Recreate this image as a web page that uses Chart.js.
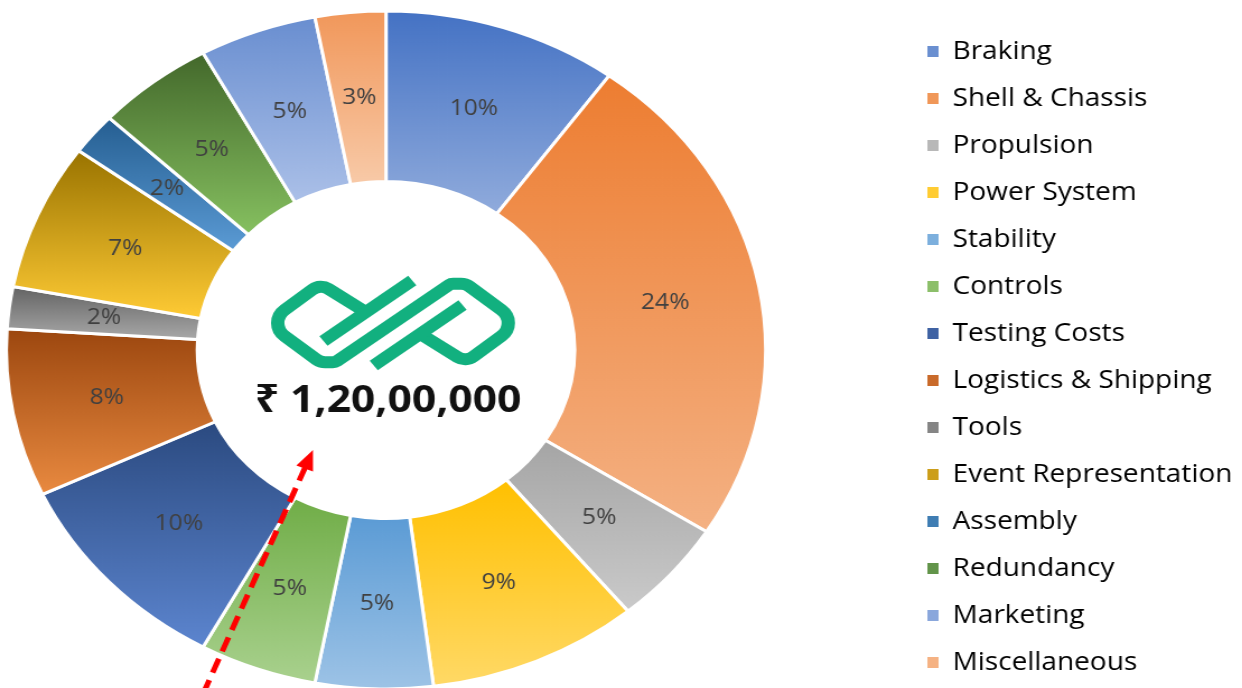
<!DOCTYPE html>
<html>
<head>
<meta charset="utf-8">
<script src="https://cdn.jsdelivr.net/npm/chart.js@4.4.1/dist/chart.umd.min.js"></script>
<style>
  html, body { margin: 0; padding: 0; background: #fff; overflow: hidden; }
  /* the reference picture is stretched sideways, so the canvas is too */
  #wrap { width: 1109px; height: 688px; transform: scaleX(1.12); transform-origin: 0 0; }
</style>
</head>
<body>
<div id="wrap"><canvas id="budgetChart"></canvas></div>
<script>
const STRETCH = 1.12;

const categories = [
    'Braking', 'Shell & Chassis', 'Propulsion', 'Power System', 'Stability', 'Controls',
    'Testing Costs', 'Logistics & Shipping', 'Tools', 'Event Representation', 'Assembly',
    'Redundancy', 'Marketing', 'Miscellaneous',
];
const shares = [10, 24, 5, 9, 5, 5, 10, 8, 2, 7, 2, 5, 5, 3];
const totalBudget = '₹ 1,20,00,000';

const topColors = ['#4472c4', '#ed7d31', '#a5a5a5', '#ffc000', '#5b9bd5', '#70ad47',
    '#2b4a80', '#9c470f', '#636363', '#997300', '#255e91', '#43682b', '#698ed0', '#f1975a'];
const bottomColors = ['#90abdc', '#f4b183', '#cacaca', '#ffd966', '#9dc3e6', '#a9d18e',
    '#5c85cf', '#e98a40', '#a8a8a8', '#ffcb35', '#5b9bd5', '#86c060', '#abc0e8', '#f8caa8'];
const legendColors = ['#6a8fd0', '#f09758', '#b8b8b8', '#ffcc33', '#7cafdd', '#8cbf6a',
    '#3f62a3', '#c96a2a', '#858585', '#cc9e1a', '#3f7db3', '#62944a', '#8aa7dc', '#f5b283'];

Chart.defaults.font.family = "'Open Sans', 'Noto Sans', sans-serif";

// fixed placement of ring and legend (the reference layout is not Chart.js default)
const placement = {
    id: 'placement',
    afterLayout(chart) {
        const cx = 386 / STRETCH, cy = 350, half = 345;
        chart.chartArea = { left: cx - half, top: cy - half, right: cx + half, bottom: cy + half, width: half * 2, height: half * 2 };
        const lg = chart.legend;
        const w = lg.width;
        lg.left = 806;
        lg.right = lg.left + w;
        lg.top = 17;
        lg.bottom = 760;
    },
};

// vertical gradient inside every slice + percentage labels
const sliceGradient = {
    id: 'sliceGradient',
    beforeDatasetsDraw(chart) {
        const ctx = chart.ctx;
        chart.getDatasetMeta(0).data.forEach((arc, i) => {
            const { y, startAngle, endAngle, innerRadius, outerRadius } = arc;
            let minY = Infinity, maxY = -Infinity;
            for (let k = 0; k <= 30; k++) {
                const a = startAngle + (endAngle - startAngle) * k / 30;
                for (const r of [innerRadius, outerRadius]) {
                    const py = y + Math.sin(a) * r;
                    minY = Math.min(minY, py);
                    maxY = Math.max(maxY, py);
                }
            }
            const g = ctx.createLinearGradient(0, minY, 0, maxY);
            g.addColorStop(0, topColors[i]);
            g.addColorStop(1, bottomColors[i]);
            arc.options.backgroundColor = g;
        });
    },
    afterDatasetsDraw(chart) {
        const ctx = chart.ctx;
        ctx.save();
        ctx.font = "22px 'Open Sans'";
        ctx.fillStyle = '#404040';
        ctx.textAlign = 'center';
        ctx.textBaseline = 'middle';
        chart.getDatasetMeta(0).data.forEach((arc, i) => {
            const p = arc.tooltipPosition();
            ctx.fillText(shares[i] + '%', p.x, p.y);
        });
        ctx.restore();
    },
};

// logo, total and the red arrow in the hole
const centerArt = {
    id: 'centerArt',
    afterDraw(chart) {
        const ctx = chart.ctx;
        ctx.save();

        // logo: one long loop stroke and two bars (picture px, relative to logo centre)
        const lx = 393, ly = 323;
        const toCanvas = ([dx, dy]) => [(lx + dx * 1.07) / STRETCH, ly + dy * 1.06];
        const loop = [[-25, -10], [-68, -37], [-118, 0], [-68, 37], [-54, 37],
            [54, -37], [68, -37], [118, 0], [68, 37], [25, 10]];
        const radii = [0, 12, 17, 12, 6, 6, 12, 17, 12, 0];
        const bars = [[[-65, 17], [18, -40]], [[65, -17], [-18, 40]]];
        ctx.strokeStyle = '#12b07f';
        ctx.lineWidth = 12;
        ctx.lineCap = 'butt';
        ctx.lineJoin = 'round';
        const pts = loop.map(toCanvas);
        ctx.beginPath();
        ctx.moveTo(pts[0][0], pts[0][1]);
        for (let k = 1; k < pts.length - 1; k++) {
            ctx.arcTo(pts[k][0], pts[k][1], pts[k + 1][0], pts[k + 1][1], radii[k]);
        }
        ctx.lineTo(pts[pts.length - 1][0], pts[pts.length - 1][1]);
        ctx.stroke();
        bars.forEach(b => {
            const [a, c] = b.map(toCanvas);
            ctx.beginPath();
            ctx.moveTo(a[0], a[1]);
            ctx.lineTo(c[0], c[1]);
            ctx.stroke();
        });

        ctx.font = "bold 38px 'Open Sans', 'Noto Sans', 'DejaVu Sans'";
        ctx.fillStyle = '#111111';
        ctx.textAlign = 'center';
        ctx.textBaseline = 'middle';
        ctx.fillText(totalBudget, 388 / STRETCH, 401);

        // dashed arrow
        const x0 = 203 / STRETCH, y0 = 694, tx = 313 / STRETCH, ty = 450;
        const len = Math.hypot(tx - x0, ty - y0);
        const ux = (tx - x0) / len, uy = (ty - y0) / len;
        const headLen = 20, headHalf = 8;
        const bx = tx - ux * headLen, by = ty - uy * headLen;
        ctx.strokeStyle = '#ff0000';
        ctx.fillStyle = '#ff0000';
        ctx.lineWidth = 5;
        ctx.setLineDash([15, 8]);
        ctx.beginPath();
        ctx.moveTo(x0, y0);
        ctx.lineTo(bx + ux * 2, by + uy * 2);
        ctx.stroke();
        ctx.setLineDash([]);
        ctx.beginPath();
        ctx.moveTo(tx, ty);
        ctx.lineTo(bx - uy * headHalf, by + ux * headHalf);
        ctx.lineTo(bx + uy * headHalf, by - ux * headHalf);
        ctx.closePath();
        ctx.fill();

        ctx.restore();
    },
};

new Chart(document.getElementById('budgetChart'), {
    type: 'doughnut',
    data: {
        labels: categories,
        datasets: [{
            data: shares,
            backgroundColor: legendColors,
            borderColor: '#ffffff',
            borderWidth: 3,
            clip: false,
        }],
    },
    options: {
        responsive: true,
        maintainAspectRatio: false,
        animation: false,
        events: [],
        radius: 339,
        cutout: '49.7%',
        layout: { padding: 0 },
        plugins: {
            tooltip: { enabled: false },
            legend: {
                position: 'right',
                align: 'start',
                labels: {
                    boxWidth: 10,
                    boxHeight: 11,
                    padding: 22,
                    color: '#595959',
                    font: { size: 25 },
                    generateLabels(chart) {
                        return categories.map((name, i) => ({
                            text: name,
                            fillStyle: legendColors[i],
                            strokeStyle: legendColors[i],
                            lineWidth: 0,
                            hidden: false,
                            index: i,
                        }));
                    },
                },
            },
        },
    },
    plugins: [placement, sliceGradient, centerArt],
});
</script>
</body>
</html>
